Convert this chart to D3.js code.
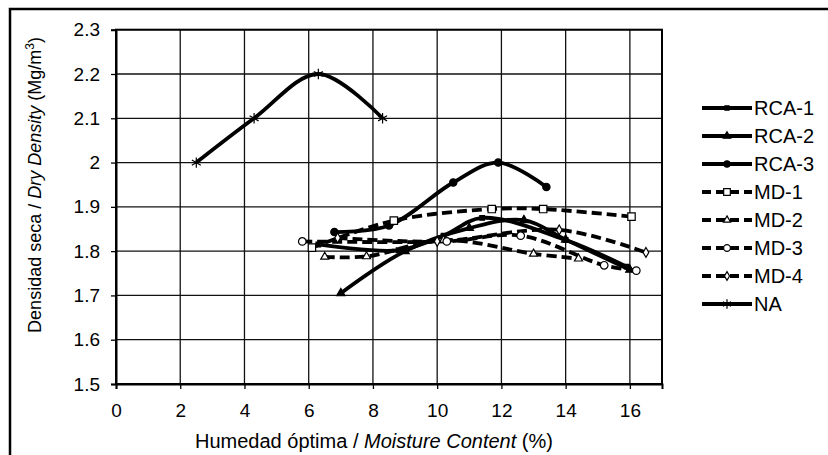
<!DOCTYPE html>
<html><head><meta charset="utf-8">
<script src="https://cdn.jsdelivr.net/npm/d3@7"></script>
<style>body{margin:0;background:#fff}svg{display:block;font-family:"Liberation Sans",Arial,sans-serif}</style>
</head><body>
<svg id="c" width="828" height="455"></svg>
<script>
const xTicks = [0,2,4,6,8,10,12,14,16];
const yTicks = [1.5,1.6,1.7,1.8,1.9,2.0,2.1,2.2,2.3];
const yTickLabels = ["1.5","1.6","1.7","1.8","1.9","2","2.1","2.2","2.3"];
const seriesNames = ["RCA-1","RCA-2","RCA-3","MD-1","MD-2","MD-3","MD-4","NA"];
const rca1 = [[6.3,1.815],[8.8,1.802],[10.2,1.835],[11.4,1.875],[14.0,1.825],[15.9,1.765]];
const rca2 = [[7.0,1.705],[9.0,1.800],[11.0,1.852],[12.7,1.870],[14.0,1.826],[16.0,1.758]];
const rca3 = [[6.8,1.843],[8.5,1.858],[10.5,1.955],[11.9,2.000],[13.4,1.945]];
const md1 = [[6.1,1.808],[8.65,1.869],[11.7,1.895],[13.3,1.895],[16.05,1.878]];
const md2 = [[6.5,1.787],[7.8,1.788],[10.2,1.825],[13.0,1.794],[14.4,1.783]];
const md3 = [[5.8,1.822],[10.3,1.822],[12.6,1.835],[15.2,1.768],[16.2,1.756]];
const md4 = [[6.9,1.830],[10.0,1.822],[13.8,1.848],[16.5,1.797]];
const na = [[2.5,2.0],[4.3,2.1],[6.3,2.2],[8.3,2.1]];
const seriesData = [rca1,rca2,rca3,md1,md2,md3,md4,na];

const styles = [
  {dash:null, sym:d3.symbolSquare, size:22, fill:"#000"},
  {dash:null, sym:d3.symbolTriangle, size:30, fill:"#000"},
  {dash:null, sym:d3.symbolCircle, size:42, fill:"#000"},
  {dash:"10,5", sym:d3.symbolSquare, size:55, fill:"#fff"},
  {dash:"10,5", sym:d3.symbolTriangle, size:28, fill:"#fff"},
  {dash:"10,5", sym:d3.symbolCircle, size:45, fill:"#fff"},
  {dash:"10,5", sym:d3.symbolDiamond, size:28, fill:"#fff"},
  {dash:null, sym:d3.symbolAsterisk, size:75, fill:"none", stroke:true}
];

const svg = d3.select("#c");
const L=116, R=662, T=29.7, B=384;
const x = d3.scaleLinear().domain([0,17]).range([L,R]);
const y = d3.scaleLinear().domain([1.5,2.3]).range([B,T]);

// outer frame
svg.append("rect").attr("x",10).attr("y",9).attr("width",840).attr("height",470)
  .attr("fill","none").attr("stroke","#000").attr("stroke-width",2.5);

// grid
const g = svg.append("g");
g.selectAll(".vg").data(xTicks.slice(1)).join("line")
  .attr("x1",d=>x(d)).attr("x2",d=>x(d)).attr("y1",T).attr("y2",B)
  .attr("stroke","#111").attr("stroke-width",1.3);
g.selectAll(".hg").data(yTicks.slice(1)).join("line")
  .attr("x1",L).attr("x2",R).attr("y1",d=>y(d)).attr("y2",d=>y(d))
  .attr("stroke","#111").attr("stroke-width",1.3);
g.append("rect").attr("x",L).attr("y",T).attr("width",R-L).attr("height",B-T)
  .attr("fill","none").attr("stroke","#000").attr("stroke-width",2);

// axes
const yAxis = d3.axisLeft(y).tickValues(yTicks).tickSize(5).tickPadding(11)
  .tickFormat((d,i)=>yTickLabels[i]);
const ya = svg.append("g").attr("transform",`translate(${L},0)`).call(yAxis);
const xAxis = d3.axisBottom(x).tickValues(xTicks).tickSize(5).tickPadding(15);
const xa = svg.append("g").attr("transform",`translate(0,${B})`).call(xAxis);
[ya,xa].forEach(a=>{
  a.select(".domain").attr("stroke","#000").attr("stroke-width",2);
  a.selectAll(".tick line").attr("stroke","#000").attr("stroke-width",1.3);
  a.selectAll("text").attr("font-size",19).attr("fill","#000")
   .attr("font-family","Liberation Sans, Arial, sans-serif");
});

// axis titles
const xt = svg.append("text").attr("x",374).attr("y",448).attr("text-anchor","middle")
  .attr("font-size",20).attr("fill","#000");
xt.append("tspan").text("Humedad óptima / ");
xt.append("tspan").attr("font-style","italic").text("Moisture Content");
xt.append("tspan").text(" (%)");

const yt = svg.append("text").attr("transform","translate(41,185) rotate(-90)")
  .attr("text-anchor","middle").attr("font-size",18).attr("fill","#000");
yt.append("tspan").text("Densidad seca / ");
yt.append("tspan").attr("font-style","italic").text("Dry Density");
yt.append("tspan").text(" (Mg/m");
yt.append("tspan").attr("font-size",12).attr("dy",-7).text("3");
yt.append("tspan").attr("dy",7).text(")");

// series
const line = d3.line().x(d=>x(d[0])).y(d=>y(d[1])).curve(d3.curveCatmullRom.alpha(0.5));
const plot = svg.append("g");
seriesData.forEach((data,i)=>{
  const s = styles[i];
  plot.append("path").attr("d",line(data)).attr("fill","none").attr("stroke","#000")
    .attr("stroke-width",3.8).attr("stroke-dasharray",s.dash);
});
seriesData.forEach((data,i)=>{
  const s = styles[i];
  plot.selectAll(null).data(data).join("path")
    .attr("transform",d=>`translate(${x(d[0])},${y(d[1])})`)
    .attr("d",d3.symbol(s.sym,s.size)())
    .attr("fill",s.fill).attr("stroke","#000").attr("stroke-width",s.stroke?1.2:1.2);
});

// legend
const lg = svg.append("g");
seriesNames.forEach((n,i)=>{
  const s = styles[i];
  const yy = 108 + i*28;
  lg.append("line").attr("x1",702).attr("x2",752).attr("y1",yy).attr("y2",yy)
    .attr("stroke","#000").attr("stroke-width",3.8).attr("stroke-dasharray",s.dash?"9,5":null);
  lg.append("path").attr("transform",`translate(727,${yy})`)
    .attr("d",d3.symbol(s.sym,s.size*0.8)()).attr("fill",s.fill).attr("stroke","#000").attr("stroke-width",1.2);
  lg.append("text").attr("x",754).attr("y",yy+7).attr("font-size",20).attr("fill","#000").text(n);
});
</script>
</body></html>
